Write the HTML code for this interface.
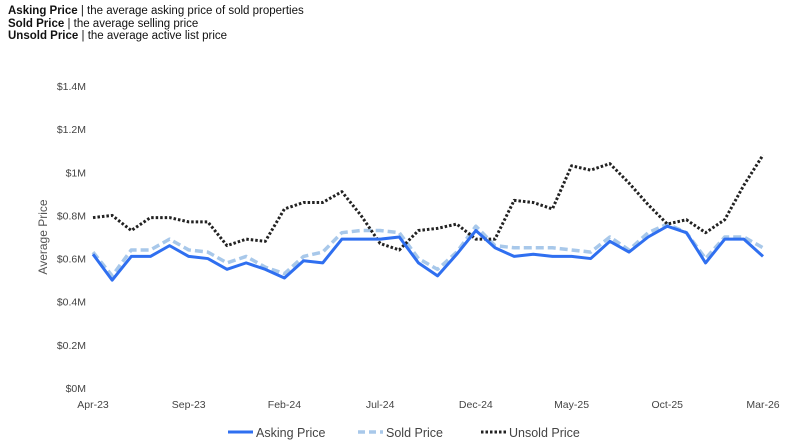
<!DOCTYPE html>
<html><head><meta charset="utf-8"><style>
body{margin:0;background:#fff;font-family:"Liberation Sans",sans-serif;}
.hdr{position:absolute;left:8px;top:5px;font-size:11.5px;line-height:12.5px;color:#111;}
</style></head><body>
<div class="hdr">
<div><b>Asking Price</b> | the average asking price of sold properties</div>
<div><b>Sold Price</b> | the average selling price</div>
<div><b>Unsold Price</b> | the average active list price</div>
</div>
<svg id="c" width="797" height="448" style="position:absolute;left:0;top:0"></svg>
<script>
const yTicks=[0,0.2,0.4,0.6,0.8,1.0,1.2,1.4];
const yTickLabels=["$0M","$0.2M","$0.4M","$0.6M","$0.8M","$1M","$1.2M","$1.4M"];
const xLabels=["Apr-23","Sep-23","Feb-24","Jul-24","Dec-24","May-25","Oct-25","Mar-26"];
const asking=[0.62,0.50,0.61,0.61,0.66,0.61,0.60,0.55,0.58,0.55,0.51,0.59,0.58,0.69,0.69,0.69,0.70,0.58,0.52,0.62,0.73,0.65,0.61,0.62,0.61,0.61,0.60,0.68,0.63,0.70,0.75,0.72,0.58,0.69,0.69,0.61];
const sold=[0.63,0.52,0.64,0.64,0.69,0.64,0.63,0.58,0.61,0.56,0.53,0.61,0.63,0.72,0.73,0.73,0.72,0.60,0.55,0.63,0.75,0.66,0.65,0.65,0.65,0.64,0.63,0.70,0.64,0.72,0.76,0.72,0.60,0.70,0.70,0.65];
const unsold=[0.79,0.80,0.73,0.79,0.79,0.77,0.77,0.66,0.69,0.68,0.83,0.86,0.86,0.91,0.80,0.67,0.64,0.73,0.74,0.76,0.69,0.69,0.87,0.86,0.83,1.03,1.01,1.04,0.95,0.85,0.76,0.78,0.72,0.78,0.94,1.08];
const svg=document.getElementById('c');const NS='http://www.w3.org/2000/svg';
const x0=93,x1=763,y0=388,y1=86;
const X=i=>x0+(x1-x0)*i/(asking.length-1);
const Y=v=>y0-(y0-y1)*v/1.4;
function mk(t,a){const e=document.createElementNS(NS,t);for(const k in a)e.setAttribute(k,a[k]);svg.appendChild(e);return e;}
yTicks.forEach((v,i)=>{const t=mk('text',{x:86,y:Y(v)+4,'text-anchor':'end','font-size':10.5,fill:'#444'});t.textContent=yTickLabels[i];

});
xLabels.forEach((l,i)=>{const t=mk('text',{x:X(i*5),y:408,'text-anchor':'middle','font-size':10.5,fill:'#444'});t.textContent=l;

});
const yt=mk('text',{x:47,y:237,'text-anchor':'middle','font-size':12,fill:'#555',transform:'rotate(-90 47 237)'});yt.textContent='Average Price';


function line(d,st,name){const p=mk('polyline',Object.assign({points:d.map((v,i)=>X(i)+','+Y(v)).join(' '),fill:'none','stroke-linejoin':'round'},st));

}
line(sold,{stroke:'#a8c8ea','stroke-width':3.5,'stroke-dasharray':'8 4'},'sold-price-line');
line(unsold,{stroke:'#222','stroke-width':3,'stroke-dasharray':'2.5 2'},'unsold-price-line');
line(asking,{stroke:'#2f6ff0','stroke-width':3},'asking-price-line');
const leg=[['Asking Price',{stroke:'#2f6ff0','stroke-width':3},228],['Sold Price',{stroke:'#a8c8ea','stroke-width':3.5,'stroke-dasharray':'7 4'},358],['Unsold Price',{stroke:'#222','stroke-width':3,'stroke-dasharray':'2.5 2'},481]];
leg.forEach(([n,st,lx])=>{const l=mk('line',Object.assign({x1:lx,x2:lx+25,y1:432,y2:432},st));


const t=mk('text',{x:lx+28,y:437,'font-size':12.5,fill:'#444'});t.textContent=n;

});
</script>
</body></html>
